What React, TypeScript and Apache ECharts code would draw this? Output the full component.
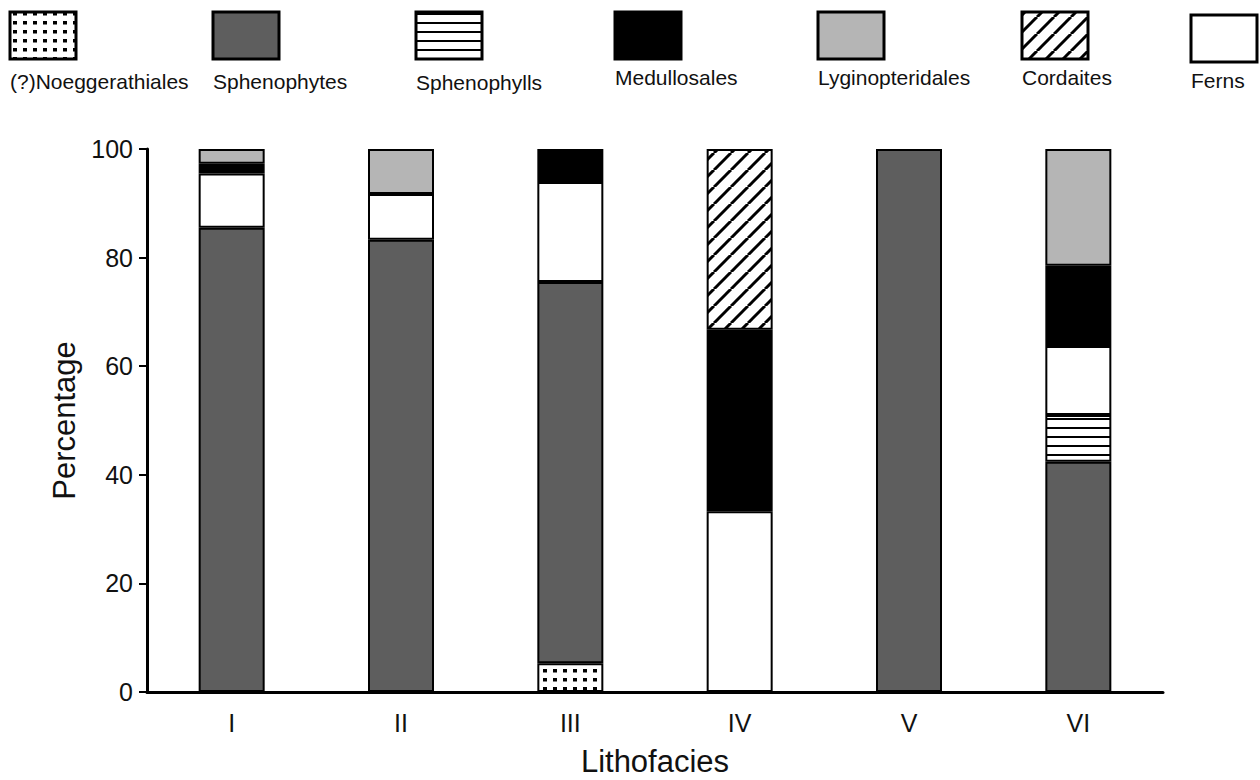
import React, { useEffect, useRef } from "react";
import * as echarts from "echarts";

const categories = ["I", "II", "III", "IV", "V", "VI"];
const yTicks = [0, 20, 40, 60, 80, 100];

const seriesNames = [
  "(?)Noeggerathiales",
  "Sphenophytes",
  "Sphenophylls",
  "Ferns",
  "Medullosales",
  "Lyginopteridales",
  "Cordaites",
];

const noeggerathiales = [null, null, 5.3, null, null, null];
const sphenophytes = [85.5, 83.3, 70.2, null, 100, 42.4];
const sphenophylls = [null, null, null, null, null, 8.6];
const ferns = [10.0, 8.4, 18.4, 33.3, null, 12.7];
const medullosales = [1.8, null, 6.1, 33.4, null, 14.8];
const lyginopteridales = [2.7, 8.3, null, null, null, 21.5];
const cordaites = [null, null, null, 33.3, null, null];

const legendOrder = [
  "(?)Noeggerathiales",
  "Sphenophytes",
  "Sphenophylls",
  "Medullosales",
  "Lyginopteridales",
  "Cordaites",
  "Ferns",
];

const FONT = "'Liberation Sans', Arial, Helvetica, sans-serif";

function tile(w: number, h: number, draw: (ctx: CanvasRenderingContext2D) => void) {
  const c = document.createElement("canvas");
  c.width = w;
  c.height = h;
  const ctx = c.getContext("2d") as CanvasRenderingContext2D;
  ctx.fillStyle = "#ffffff";
  ctx.fillRect(0, 0, w, h);
  ctx.fillStyle = "#000000";
  ctx.strokeStyle = "#000000";
  draw(ctx);
  return { image: c.toDataURL(), repeat: "repeat", imageWidth: w, imageHeight: h };
}

export default function App() {
  const ref = useRef<HTMLDivElement>(null);

  useEffect(() => {
    document.body.style.margin = "0";
    if (!ref.current) return;
    const chart = echarts.init(ref.current, undefined, { renderer: "svg" });

    const dots = tile(10, 9, (ctx) => {
      ctx.fillRect(3, 3, 4, 3.5);
    });
    const hlines = tile(10, 9, (ctx) => {
      ctx.fillRect(0, 4, 10, 2);
    });
    const H = 17;
    const hatch = tile(H, H, (ctx) => {
      ctx.lineWidth = 3;
      for (let k = -1; k <= 1; k++) {
        ctx.beginPath();
        ctx.moveTo(k * H, H);
        ctx.lineTo(k * H + H, 0);
        ctx.stroke();
      }
    });

    const fills: Record<string, any> = {
      "(?)Noeggerathiales": dots,
      Sphenophytes: "#5e5e5e",
      Sphenophylls: hlines,
      Ferns: "#ffffff",
      Medullosales: "#000000",
      Lyginopteridales: "#b5b5b5",
      Cordaites: hatch,
    };

    const dataByName: Record<string, (number | null)[]> = {
      "(?)Noeggerathiales": noeggerathiales,
      Sphenophytes: sphenophytes,
      Sphenophylls: sphenophylls,
      Ferns: ferns,
      Medullosales: medullosales,
      Lyginopteridales: lyginopteridales,
      Cordaites: cordaites,
    };

    const legendBoxes = [
      { x: 10, y: 12, ty: 81 },
      { x: 213, y: 12, ty: 81 },
      { x: 416, y: 12, ty: 82 },
      { x: 615, y: 12, ty: 77 },
      { x: 818, y: 12, ty: 77 },
      { x: 1022, y: 12, ty: 77 },
      { x: 1191, y: 15, ty: 80 },
    ];

    const graphics: any[] = [];
    legendOrder.forEach((name, i) => {
      const b = legendBoxes[i];
      graphics.push({
        type: "rect",
        shape: { x: b.x, y: b.y, width: 66, height: 47 },
        style: { fill: fills[name], stroke: "#000", lineWidth: 3 },
      });
      graphics.push({
        type: "text",
        style: {
          text: name,
          x: b.x,
          y: b.ty,
          font: `21px ${FONT}`,
          fill: "#111",
          align: "left",
          verticalAlign: "middle",
        },
      });
    });

    chart.setOption({
      animation: false,
      backgroundColor: "#ffffff",
      textStyle: { fontFamily: FONT },
      grid: {
        left: 147,
        right: 97,
        top: 149,
        bottom: 88,
        containLabel: false,
        outerBoundsMode: "none",
      },
      xAxis: {
        type: "category",
        data: categories,
        name: "Lithofacies",
        nameLocation: "middle",
        nameGap: 54,
        nameTextStyle: { fontSize: 31, color: "#111", fontFamily: FONT },
        axisLine: { show: true, lineStyle: { color: "#000", width: 3 } },
        axisTick: { show: false },
        axisLabel: { fontSize: 25, color: "#111", margin: 18, fontFamily: FONT },
        splitLine: { show: false },
      },
      yAxis: {
        type: "value",
        min: yTicks[0],
        max: yTicks[yTicks.length - 1],
        interval: 20,
        name: "Percentage",
        nameLocation: "middle",
        nameGap: 64,
        nameTextStyle: { fontSize: 31, color: "#111", fontFamily: FONT },
        axisLine: { show: true, lineStyle: { color: "#000", width: 3 } },
        axisTick: { show: true, length: 8, lineStyle: { color: "#000", width: 2 } },
        axisLabel: { fontSize: 25, color: "#111", margin: 14, fontFamily: FONT },
        splitLine: { show: false },
      },
      graphic: graphics,
      series: seriesNames.map((name) => ({
        name,
        type: "bar",
        stack: "total",
        barWidth: 66,
        data: dataByName[name].map((v) => (v === null ? "-" : v)),
        itemStyle: { color: fills[name], borderColor: "#000", borderWidth: 2 },
        emphasis: { disabled: true },
      })),
    });

    return () => chart.dispose();
  }, []);

  return <div ref={ref} style={{ width: 1260, height: 780 }} />;
}
